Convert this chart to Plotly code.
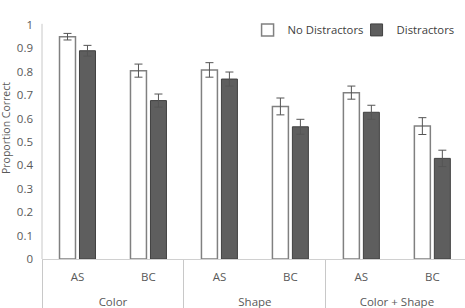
import plotly.graph_objects as go

groups = ["Color", "Color", "Shape", "Shape", "Color + Shape", "Color + Shape"]
conds = ["AS", "BC", "AS", "BC", "AS", "BC"]
no_distractors = [0.950, 0.805, 0.808, 0.652, 0.711, 0.568]
no_distractors_err = [0.014, 0.028, 0.031, 0.036, 0.028, 0.036]
distractors = [0.890, 0.677, 0.769, 0.565, 0.627, 0.430]
distractors_err = [0.023, 0.028, 0.030, 0.032, 0.030, 0.035]
y_ticks = [0, 0.1, 0.2, 0.3, 0.4, 0.5, 0.6, 0.7, 0.8, 0.9, 1]
y_tick_labels = ["0", "0.1", "0.2", "0.3", "0.4", "0.5", "0.6", "0.7", "0.8", "0.9", "1"]

font_family = "Open Sans, Lato, sans-serif"
txt = "#595959"

# group labels get a leading empty line so they sit lower, as in the original
group_labels = ["<br>" + g for g in groups]

fig = go.Figure()
fig.add_trace(go.Bar(
    x=[group_labels, conds], y=no_distractors, name="No Distractors",
    marker=dict(color="white", line=dict(color="#808080", width=1.5)),
    error_y=dict(type="data", array=no_distractors_err, color="#555555", thickness=1, width=4),
))
fig.add_trace(go.Bar(
    x=[group_labels, conds], y=distractors, name="Distractors",
    marker=dict(color="#5e5e5e", line=dict(color="#404040", width=1)),
    error_y=dict(type="data", array=distractors_err, color="#555555", thickness=1, width=4),
))

fig.update_layout(
    width=465, height=308,
    margin=dict(l=42, r=0, t=25, b=49, autoexpand=False),
    paper_bgcolor="white", plot_bgcolor="white",
    barmode="group", bargap=0.437, bargroupgap=0.2,
    font=dict(family=font_family, size=11, color=txt),
    showlegend=True,
    legend=dict(orientation="h", x=0.486, y=0.979, xanchor="left", yanchor="middle",
                font=dict(size=11.3, color="#404040"), bgcolor="rgba(0,0,0,0)",
                itemwidth=30, traceorder="normal", entrywidth=64, entrywidthmode="pixels"),
    annotations=[dict(text="Proportion Correct", textangle=-90, xref="paper", yref="paper",
                      x=-0.085, y=0.56, xanchor="center", yanchor="middle", showarrow=False,
                      font=dict(size=10.5, color=txt))],
)
fig.update_xaxes(
    type="multicategory", range=[-0.5, 5.46],
    showline=True, linecolor="#d0d0d0", linewidth=1,
    showdividers=True, dividercolor="#c8c8c8", dividerwidth=1,
    ticks="", tickfont=dict(size=11.5, color=txt), showgrid=False,
    ticklabelstandoff=7,
)
fig.update_yaxes(
    range=[0, 1.0], tickvals=y_ticks, ticktext=y_tick_labels,
    showline=False, showgrid=False, zeroline=False,
    ticks="", ticklabelstandoff=8, tickfont=dict(size=11.5, color=txt),
)
fig.add_shape(type="line", xref="paper", yref="paper", x0=0, x1=0, y0=0, y1=1.005,
              line=dict(color="#c8c8c8", width=1))

fig.write_html("out.html")
